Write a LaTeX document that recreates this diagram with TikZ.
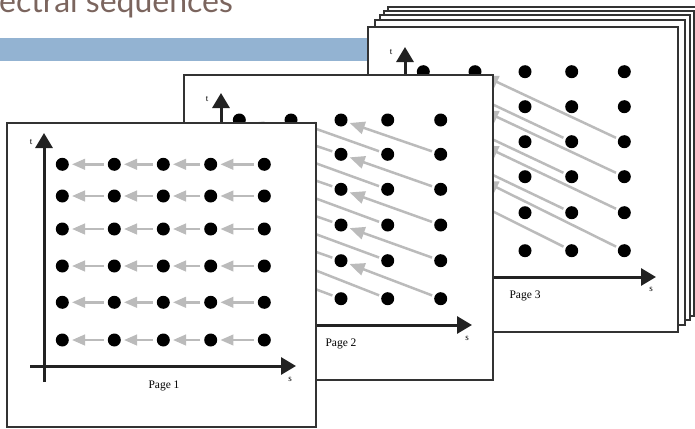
\documentclass[tikz,border=0pt]{standalone}
\usepackage{fontspec}
\setmainfont{Liberation Serif}
\newfontfamily\titlefont{Lato}
\usetikzlibrary{arrows.meta}
\definecolor{titlebrown}{HTML}{7B655E}
\definecolor{barblue}{HTML}{93B3D2}
\definecolor{axisdark}{HTML}{222222}
\definecolor{arrowgray}{HTML}{BBBBBB}
\definecolor{boxline}{HTML}{333333}
\tikzset{
  pagebox/.style={draw=boxline, fill=white, line width=1.3pt},
  dotnode/.style={circle, fill=black, inner sep=0pt, minimum size=13pt},
  axisline/.style={draw=axisdark, line width=3pt, -{Triangle[length=15pt,width=17pt]}},
  garrowA/.style={draw=arrowgray, line width=2.5pt, -{Triangle[length=13pt,width=10.5pt]}, shorten >=3pt, shorten <=4pt},
  garrowB/.style={draw=arrowgray, line width=2.5pt, -{Triangle[length=15pt,width=12.5pt]}, shorten >=2.5pt, shorten <=2.5pt},
  pagelabel/.style={font=\fontsize{11.5}{12}\selectfont, inner sep=0pt},
  axlabel/.style={font=\fontsize{9}{10}\selectfont, inner sep=0pt},
}
\begin{document}
\begin{tikzpicture}[x=1pt,y=-1pt]
\useasboundingbox (0,0) rectangle (695,428);
\clip (0,0) rectangle (695,428);
% title and bar
\fill[barblue] (0,38) rectangle (695,61);
\node[anchor=base west, font=\titlefont\fontsize{32}{32}\selectfont, text=titlebrown, inner sep=0pt] (title) at (-1,12.5) {ectral sequences};
% stack of pages behind page 3
\foreach \dx/\dy in {20/-20,16/-16,12/-12,7/-7}{
  \draw[pagebox] (368+\dx,27+\dy) rectangle (678+\dx,332+\dy);
}
% ---------------- Page 3 ----------------
\draw[pagebox] (368,27) rectangle (678,332);
\coordinate (p3vb) at (405,293);
\coordinate (p3vt) at (405,47);
\coordinate (p3hl) at (391,277);
\coordinate (p3hr) at (656,277);
\draw[axisline] (p3vb) -- (p3vt);
\draw[axisline] (p3hl) -- (p3hr);
\node[axlabel] (p3t) at (391,52) {t};
\node[axlabel] (p3s) at (651,289) {s};
\node[pagelabel] (p3lab) at (525,296) {Page 3};
\foreach \c/\x in {0/423.3,1/475,2/525,3/571.7,4/624.3}{
  \foreach \r/\y in {0/71.7,1/106.7,2/141.7,3/176.7,4/212.7,5/250.7}{
    \node[dotnode] (q3-\c-\r) at (\x,\y) {};
  }
}
\foreach \c in {3,4}{
  \foreach \r in {2,...,5}{
    \pgfmathtruncatemacro\tc{\c-3}
    \pgfmathtruncatemacro\tr{\r-2}
    \draw[garrowB] (q3-\c-\r) -- (q3-\tc-\tr);
  }
}
% ---------------- Page 2 ----------------
\draw[pagebox] (184,75) rectangle (493,380);
\coordinate (p2vb) at (221,341);
\coordinate (p2vt) at (221,93);
\coordinate (p2hl) at (207,325);
\coordinate (p2hr) at (472,325);
\draw[axisline] (p2vb) -- (p2vt);
\draw[axisline] (p2hl) -- (p2hr);
\node[axlabel] (p2t) at (207,99) {t};
\node[axlabel] (p2s) at (467,338) {s};
\node[pagelabel] (p2lab) at (341,344) {Page 2};
\foreach \c/\x in {0/239.3,1/291,2/341,3/387.7,4/440.7}{
  \foreach \r/\y in {0/120,1/154.3,2/189.3,3/225,4/260.7,5/298.7}{
    \node[dotnode] (q2-\c-\r) at (\x,\y) {};
  }
}
\foreach \c in {2,3,4}{
  \foreach \r in {1,...,5}{
    \pgfmathtruncatemacro\tc{\c-2}
    \pgfmathtruncatemacro\tr{\r-1}
    \draw[garrowB] (q2-\c-\r) -- (q2-\tc-\tr);
  }
}
% ---------------- Page 1 ----------------
\draw[pagebox] (7,123) rectangle (316,427);
\coordinate (p1vb) at (44,382);
\coordinate (p1vt) at (44,133);
\coordinate (p1hl) at (30,366);
\coordinate (p1hr) at (296,366);
\draw[axisline] (p1vb) -- (p1vt);
\draw[axisline] (p1hl) -- (p1hr);
\node[axlabel] (p1t) at (31,142) {t};
\node[axlabel] (p1s) at (290,379) {s};
\node[pagelabel] (p1lab) at (164,386) {Page 1};
\foreach \c/\x in {0/62.3,1/114.3,2/163.3,3/210.7,4/264.3}{
  \foreach \r/\y in {0/164.3,1/196,2/229,3/266,4/302.3,5/340}{
    \node[dotnode] (q1-\c-\r) at (\x,\y) {};
  }
}
\foreach \c in {1,2,3,4}{
  \foreach \r in {0,...,5}{
    \pgfmathtruncatemacro\tc{\c-1}
    \draw[garrowA] (q1-\c-\r) -- (q1-\tc-\r);
  }
}
\end{tikzpicture}
\end{document}
